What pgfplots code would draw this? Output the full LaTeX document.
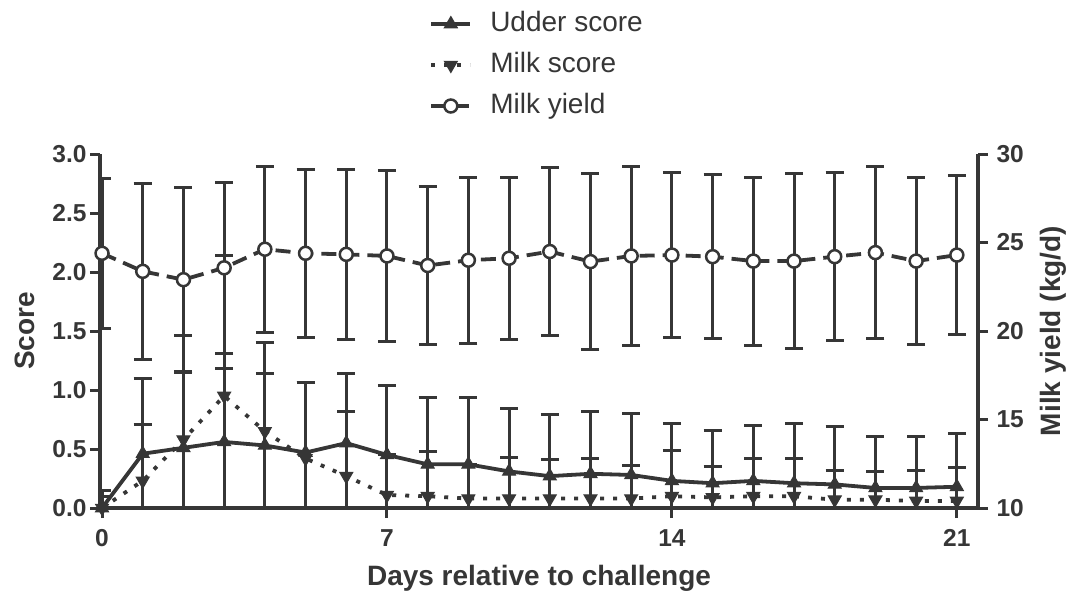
\documentclass[border=0pt]{standalone}
\usepackage{fontspec}
\setmainfont{Liberation Sans}
\usepackage{pgfplots}
\pgfplotsset{compat=1.18}
\usepackage{pgfplotstable}

\definecolor{ink}{HTML}{363636}

\pgfplotstableread{
day udder uerr milk merr yield yerr
0  0.00 0.15 0.00 0.10 24.39 4.24
1  0.46 0.64 0.23 0.48 23.37 4.97
2  0.51 0.64 0.58 0.88 22.90 5.20
3  0.56 0.62 0.95 1.19 23.57 4.82
4  0.53 0.61 0.65 0.75 24.62 4.70
5  0.47 0.59 0.42 0.64 24.39 4.74
6  0.55 0.59 0.27 0.55 24.33 4.80
7  0.45 0.59 0.11 0.34 24.24 4.83
8  0.37 0.57 0.10 0.38 23.70 4.46
9  0.37 0.57 0.08 0.29 24.00 4.68
10 0.31 0.53 0.08 0.35 24.11 4.58
11 0.27 0.52 0.08 0.33 24.49 4.77
12 0.29 0.53 0.08 0.34 23.92 4.98
13 0.28 0.52 0.08 0.28 24.24 5.05
14 0.23 0.49 0.10 0.39 24.29 4.65
15 0.21 0.45 0.09 0.26 24.20 4.65
16 0.23 0.47 0.10 0.32 23.95 4.75
17 0.21 0.51 0.10 0.32 23.95 4.94
18 0.20 0.49 0.07 0.25 24.20 4.73
19 0.17 0.44 0.07 0.24 24.43 4.85
20 0.17 0.44 0.06 0.26 23.95 4.73
21 0.18 0.45 0.06 0.28 24.29 4.51
}\data

\pgfplotsset{
  common/.style={
    width=878pt, height=354pt, scale only axis,
    xmin=-0.05, xmax=21.52,
    tick align=outside, major tick length=10pt,
    every tick/.style={ink, line width=3pt},
    axis line style={ink, line width=3.5pt},
    tick label style={font=\fontsize{24.5}{28}\selectfont\bfseries, text=ink},
    label style={font=\fontsize{28}{34}\selectfont\bfseries, text=ink},
    /pgf/number format/assume math mode=true,
    legend image code/.code={\draw[mark repeat=2,mark phase=2,##1] plot coordinates {(0pt,0pt) (19.5pt,0pt) (39pt,0pt)};},
  },
  ebars/.style={error bars/.cd, y dir=both, y explicit,
    error bar style={line width=3pt, ink, solid},
    error mark options={rotate=90, mark size=9pt, line width=3pt, ink, solid}},
  udder/.style={ink, line width=3.8pt, mark=triangle*, mark size=7.5pt, mark options={solid, fill=ink, line width=1pt}},
  milks/.style={ink, line width=3.8pt, dash pattern=on 4pt off 9pt, mark=triangle*, mark size=7.5pt, mark options={solid, rotate=180, fill=ink, line width=1pt}},
  yieldst/.style={ink, line width=3.8pt, dash pattern=on 15pt off 8pt, mark=*, mark size=6.5pt, mark options={solid, fill=white, draw=ink, line width=2.5pt}},
}

\begin{document}
\begin{tikzpicture}
\begin{axis}[common,
  axis x line*=bottom, axis y line*=left,
  ymin=0, ymax=3, ytick={0,0.5,...,3},
  yticklabel style={/pgf/number format/.cd, fixed, fixed zerofill, precision=1},
  xticklabel style={yshift=-8pt},
  xtick={0,7,14,21},
  xlabel={Days relative to challenge},
  ylabel={Score},
  xlabel style={at={(axis description cs:0.5,-0.198)}, anchor=center},
  ylabel style={at={(axis description cs:-0.0854,0.5)}, anchor=center},
]
\addplot[milks, ebars] table[x=day, y=milk, y error=merr] {\data};
\addplot[udder, ebars] table[x=day, y=udder, y error=uerr] {\data};
\end{axis}
\begin{axis}[common,
  axis x line=none, axis y line*=right,
  ymin=10, ymax=30, ytick={10,15,20,25,30},
  yticklabel style={xshift=5pt},
  ylabel={Milk yield (kg/d)},
  ylabel style={at={(axis description cs:1.0854,0.5)}, anchor=center},
  legend style={at={(axis description cs:0.375,1.2514)}, anchor=west, draw=none, fill=none, inner sep=0pt,
    font=\fontsize{28}{34}\selectfont, text=ink, row sep=11pt,
    nodes={text height=20pt, text depth=6pt, inner sep=2pt},
    /tikz/every odd column/.append style={column sep=16pt}},
  legend cell align=left,
]
\addlegendimage{udder}
\addlegendentry{Udder score}
\addlegendimage{milks}
\addlegendentry{Milk score}
\addplot[yieldst, ebars] table[x=day, y=yield, y error=yerr] {\data};
\addlegendentry{Milk yield}
\end{axis}
\pgfresetboundingbox
\useasboundingbox (-100pt,-87pt) rectangle (973pt,508pt);
\end{tikzpicture}
\end{document}
